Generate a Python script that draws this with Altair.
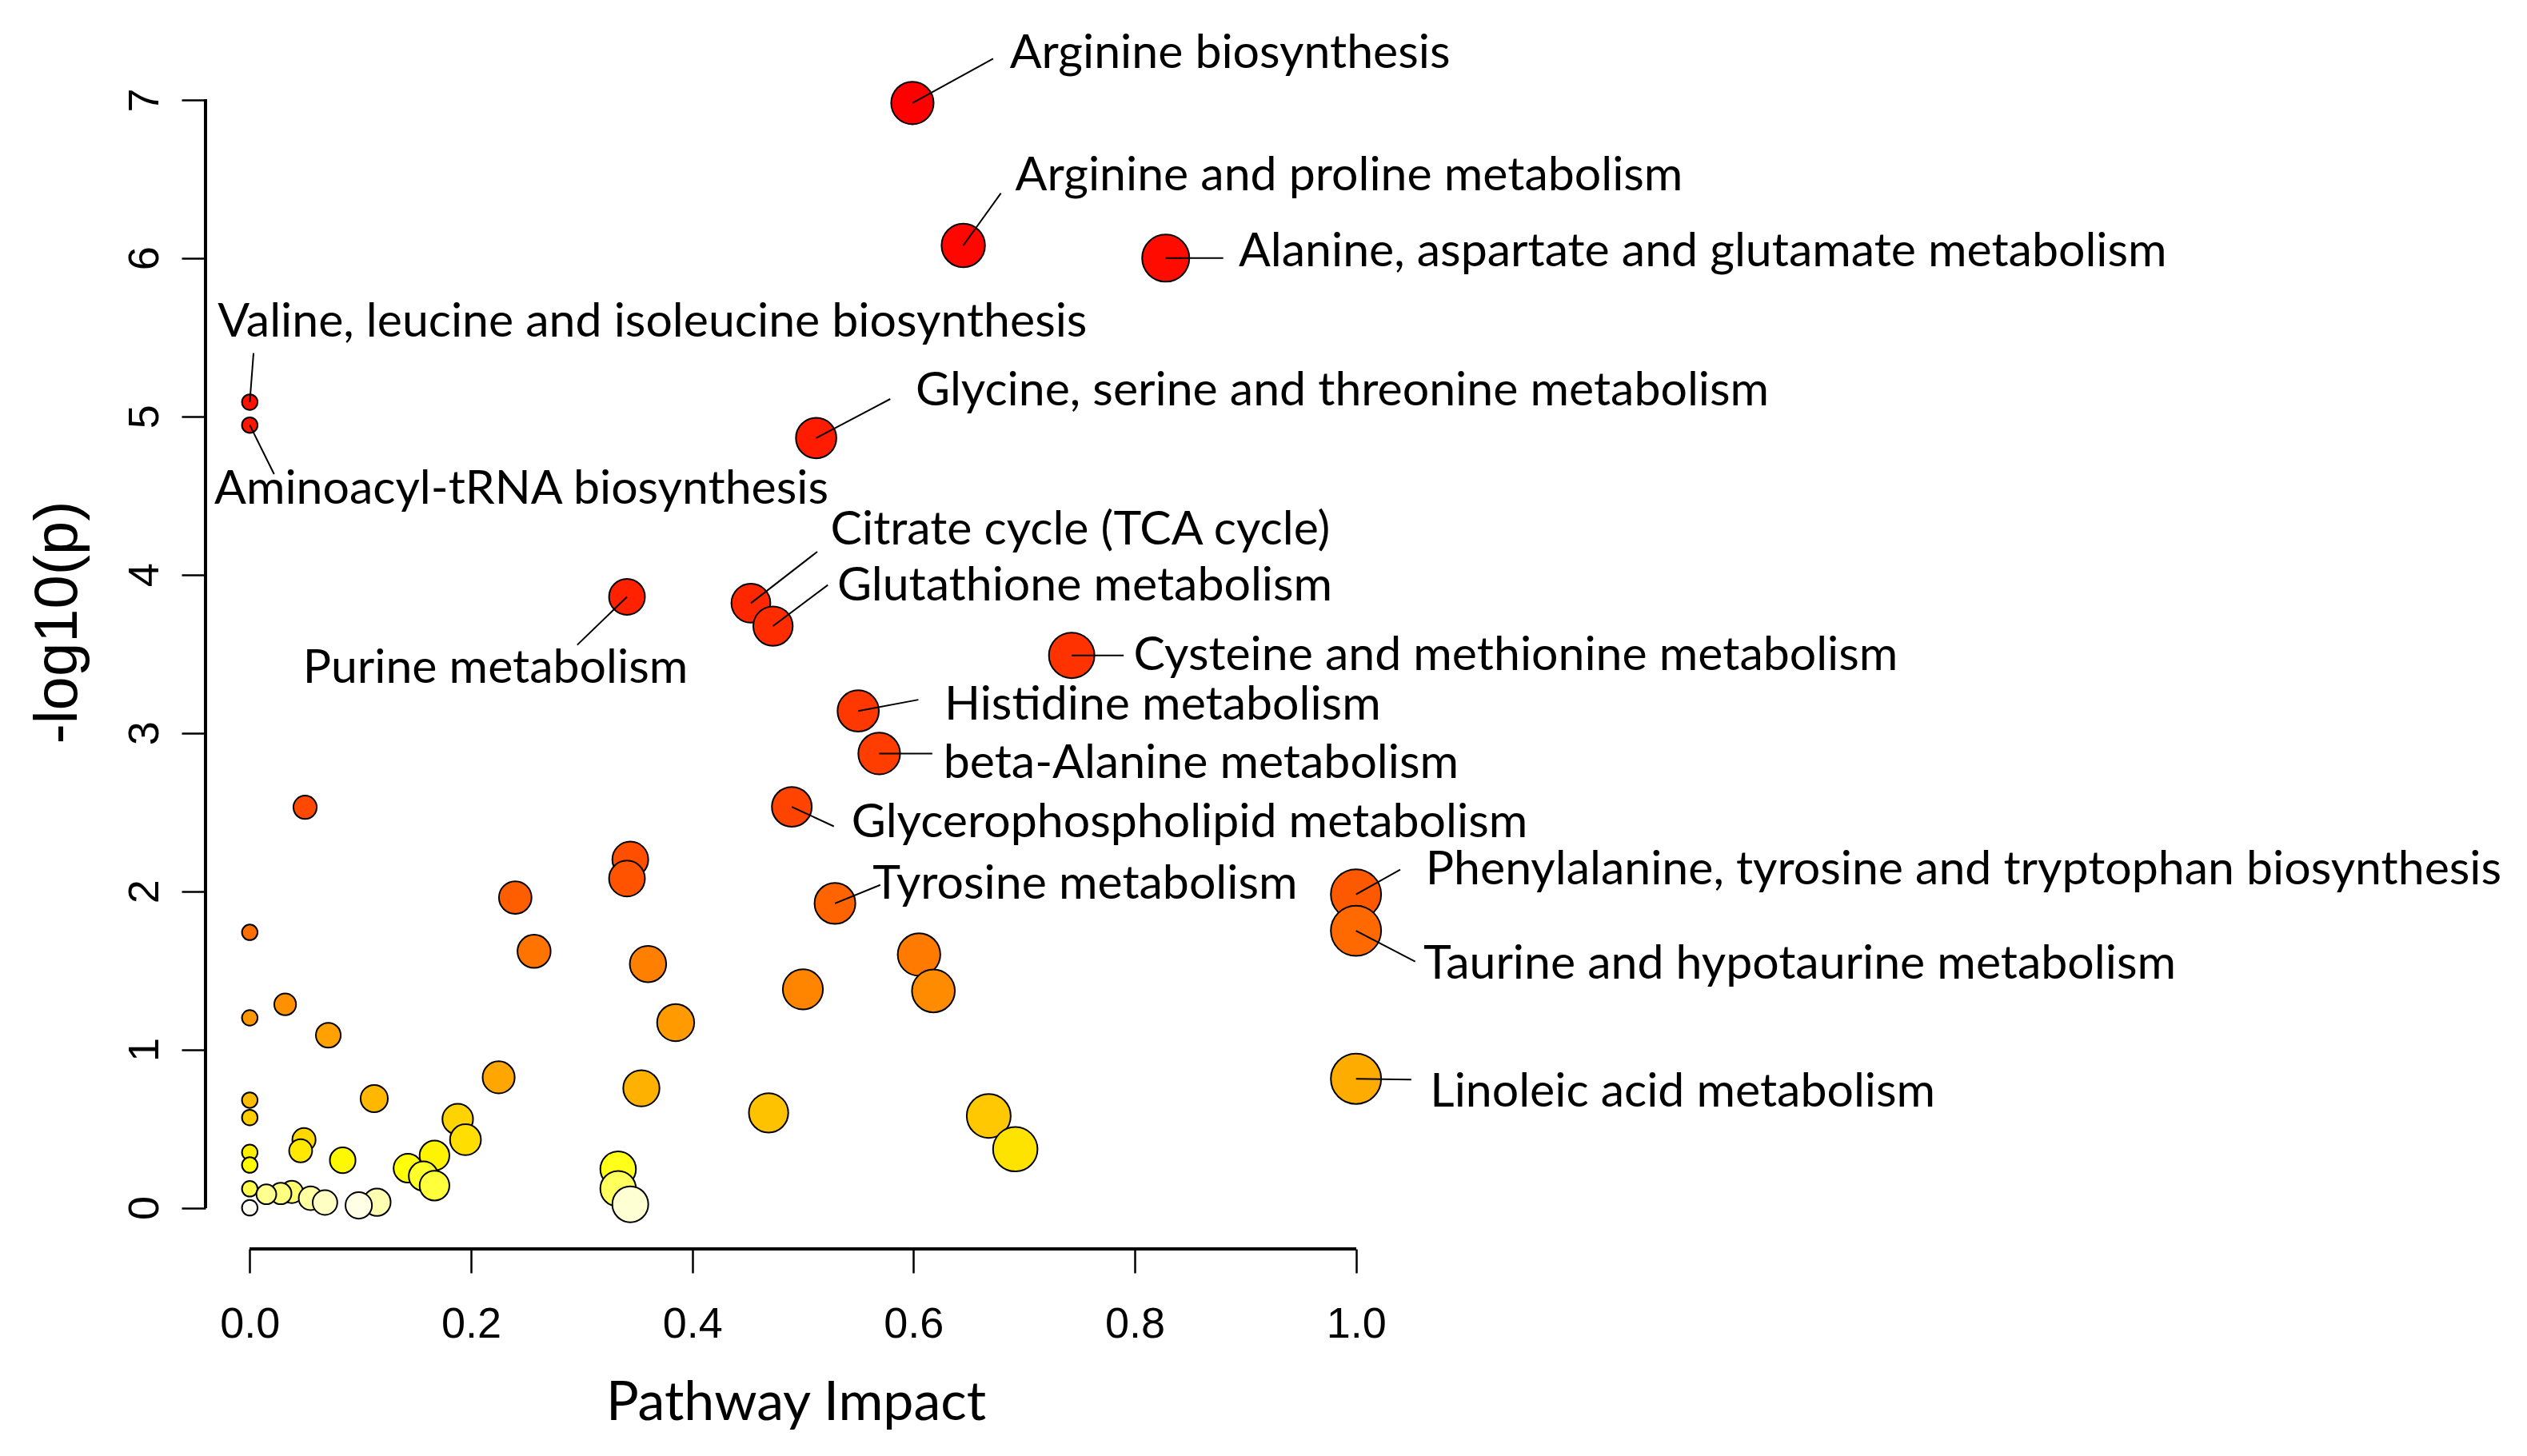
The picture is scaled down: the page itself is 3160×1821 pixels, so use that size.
import altair as alt
import pandas as pd

# ---- data ----
impact = [0.599, 0.645, 0.828, 0.0, 0.0, 0.512, 0.341, 0.453, 0.473, 0.743, 0.550, 0.569, 0.490, 0.529, 1.0, 1.0, 1.0,
          0.050, 0.344, 0.341, 0.240, 0.257, 0.605, 0.360, 0.500, 0.618,
          0.0, 0.032, 0.0, 0.385, 0.071,
          0.225, 0.354, 0.1125, 0.0, 0.469, 0.668, 0.0, 0.188,
          0.049, 0.195, 0.692, 0.046, 0.0, 0.167, 0.084, 0.0,
          0.143, 0.333, 0.157, 0.167, 0.0, 0.333, 0.038, 0.028, 0.015, 0.055,
          0.115, 0.068, 0.344, 0.0985, 0.0]
neglogp = [6.98, 6.08, 6.00, 5.09, 4.945, 4.863, 3.86, 3.82, 3.675, 3.49, 3.139, 2.87, 2.533, 1.923, 1.98, 1.75, 0.815,
           2.53, 2.20, 2.08, 1.96, 1.62, 1.60, 1.54, 1.38, 1.37,
           1.74, 1.285, 1.20, 1.17, 1.09,
           0.824, 0.755, 0.69, 0.68, 0.60, 0.58, 0.57, 0.56,
           0.43, 0.43, 0.37, 0.36, 0.35, 0.33, 0.30, 0.27,
           0.25, 0.244, 0.20, 0.14, 0.12, 0.12, 0.10, 0.09, 0.085, 0.06,
           0.035, 0.033, 0.022, 0.015, 0.0]

label_names = ["Arginine biosynthesis", "Arginine and proline metabolism",
               "Alanine, aspartate and glutamate metabolism",
               "Valine, leucine and isoleucine biosynthesis", "Aminoacyl-tRNA biosynthesis",
               "Glycine, serine and threonine metabolism", "Purine metabolism",
               "Citrate cycle (TCA cycle)", "Glutathione metabolism",
               "Cysteine and methionine metabolism", "Histidine metabolism",
               "beta-Alanine metabolism", "Glycerophospholipid metabolism", "Tyrosine metabolism",
               "Phenylalanine, tyrosine and tryptophan biosynthesis",
               "Taurine and hypotaurine metabolism", "Linoleic acid metabolism"]
label_x = [0.687, 0.692, 0.894, -0.029, -0.032, 0.602, 0.048, 0.525, 0.531, 0.799, 0.628, 0.627, 0.544, 0.563, 1.063, 1.061, 1.067]
label_y = [7.29, 6.52, 6.04, 5.595, 4.537, 5.158, 3.408, 4.283, 3.927, 3.489, 3.174, 2.808, 2.431, 2.045, 2.136, 1.536, 0.732]
leader_x = [0.672, 0.679, 0.880, 0.0034, 0.022, 0.579, 0.296, 0.513, 0.5226, 0.790, 0.6044, 0.617, 0.528, 0.570, 1.040, 1.0535, 1.050]
leader_y = [7.26, 6.41, 6.00, 5.40, 4.635, 5.11, 3.556, 4.145, 3.935, 3.49, 3.21, 2.87, 2.41, 2.04, 2.136, 1.555, 0.81]

x_ticks = [0.0, 0.2, 0.4, 0.6, 0.8, 1.0]
y_ticks = [0, 1, 2, 3, 4, 5, 6, 7]

# ---- tables ----
pts = pd.DataFrame({"impact": impact, "neglogp": neglogp})
n_lab = len(label_names)
labs = pd.DataFrame({"name": label_names, "tx": label_x, "ty": label_y,
                     "lx": leader_x, "ly": leader_y,
                     "px": impact[:n_lab], "py": neglogp[:n_lab]})

n = len(impact)
n_red = n - n // 4  # heat.colors split

W, H = 1494, 1546
xs = alt.Scale(domain=[-0.04, 1.04], nice=False, zero=False)
ys = alt.Scale(domain=[-0.26, 7.55], nice=False, zero=False)

xaxis = alt.Axis(values=x_ticks, format=".1f", domain=False, grid=False, tickSize=30, tickWidth=2.5,
                 tickColor="black", labelFont="Liberation Sans", labelFontSize=54, labelColor="black",
                 labelBaseline="alphabetic", labelPadding=80, labelFlush=False, labelOverlap=False,
                 title="Pathway Impact", titleFont="Lato", titleFontSize=68, titleFontWeight="normal",
                 titleColor="black", titleBaseline="alphabetic", titleAlign="center", titleX=738, titleY=213)
yaxis = alt.Axis(values=y_ticks, domain=False, grid=False, tickSize=30, tickWidth=2.5, tickColor="black",
                 labelFont="Liberation Sans", labelFontSize=54, labelColor="black", labelAngle=270,
                 labelAlign="center", labelBaseline="alphabetic", labelPadding=30, labelOverlap=False,
                 title="-log10(p)", titleFont="Liberation Sans", titleFontSize=76, titleFontWeight="normal",
                 titleColor="black", titleAngle=270, titleAlign="center", titleBaseline="alphabetic",
                 titleX=-162, titleY=762)


def X(field=None, datum=None):
    if datum is not None:
        return alt.X(datum=datum, type="quantitative", scale=xs, axis=xaxis)
    return alt.X(field, type="quantitative", scale=xs, axis=xaxis)


def Y(field=None, datum=None):
    if datum is not None:
        return alt.Y(datum=datum, type="quantitative", scale=ys, axis=yaxis)
    return alt.Y(field, type="quantitative", scale=ys, axis=yaxis)


points = alt.Chart(pts).transform_window(
    rank="row_number()", sort=[alt.SortField("neglogp", order="descending")]
).transform_calculate(
    u="sqrt(datum.impact) + 0.449"
).mark_circle(opacity=1, stroke="black", strokeWidth=2).encode(
    x=X("impact"),
    y=Y("neglogp"),
    size=alt.Size("u:Q", scale=alt.Scale(type="pow", exponent=2, domain=[0, 1.449], range=[0, 3959]), legend=None),
    color=alt.Color("rank:Q", scale=alt.Scale(domain=[1, n_red, n_red + 1, n],
                                              range=["#FF0000", "#FFFF00", "#FFFF08", "#FFFFF6"],
                                              interpolate="rgb"), legend=None),
    order=alt.Order("rank:Q", sort="ascending"),
)

leaders = alt.Chart(labs).mark_rule(color="black", strokeWidth=2).encode(
    x=X("px"), y=Y("py"), x2="lx", y2="ly"
)

texts = alt.Chart(labs).mark_text(align="left", baseline="middle", font="Lato", fontSize=59,
                                  color="black").encode(
    x=X("tx"), y=Y("ty"), text="name"
)

yline = alt.Chart(pts).mark_rule(color="black", strokeWidth=2.7).encode(
    x=alt.value(0), y=Y(datum=y_ticks[0]), y2=alt.datum(y_ticks[-1])
)
xline = alt.Chart(pts).mark_rule(color="black", strokeWidth=2.7).encode(
    y=alt.value(H), x=X(datum=x_ticks[0]), x2=alt.datum(x_ticks[-1])
)

chart = alt.layer(yline, xline, points, leaders, texts).properties(
    width=W, height=H,
    autosize=alt.AutoSizeParams(type="none"),
    padding={"left": 249, "top": 8, "right": 1400, "bottom": 250},
    background="white",
).configure_view(stroke=None)

chart.save("out.html", embed_options={"renderer": "svg", "actions": False})
